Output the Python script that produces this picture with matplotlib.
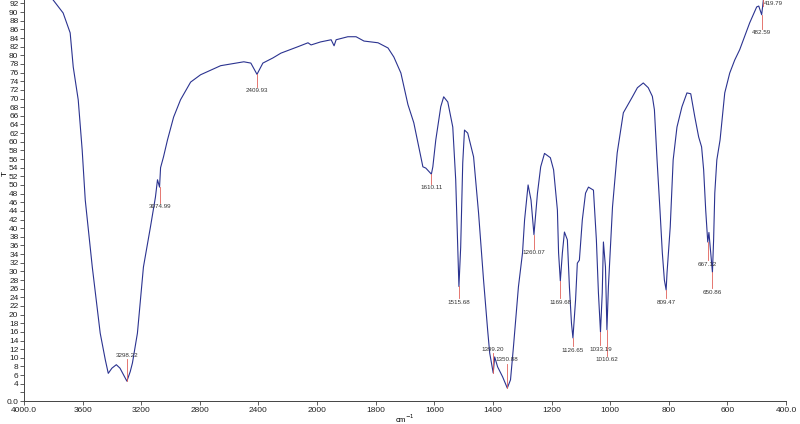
import numpy as np
import matplotlib
matplotlib.use('Agg')
import matplotlib.pyplot as plt

# spectrum (wavenumber in cm-1, transmittance)
wavenumber = [4000, 3850, 3801, 3733, 3685, 3664, 3630, 3603, 3582, 3534,
              3480, 3445, 3425, 3400, 3370, 3345, 3320, 3298, 3275, 3260,
              3226, 3185, 3137, 3103, 3089, 3075, 3068, 3048, 3021, 2979,
              2932, 2863, 2795, 2658, 2500, 2452, 2410, 2370, 2301, 2247,
              2130, 2062, 2041, 1988, 1952, 1942, 1935, 1895, 1867, 1840,
              1792, 1758, 1738, 1714, 1690, 1670, 1653, 1639, 1629, 1610,
              1605, 1595, 1578, 1568, 1554, 1537, 1527, 1520, 1516, 1510,
              1503, 1497, 1486, 1466, 1449, 1432, 1418, 1411, 1399, 1394,
              1384, 1367, 1351, 1340, 1330, 1313, 1299, 1292, 1280, 1270,
              1260, 1248, 1237, 1224, 1204, 1193, 1180, 1176, 1170, 1163,
              1156, 1146, 1139, 1132, 1127, 1118, 1112, 1105, 1095, 1084,
              1074, 1057, 1047, 1040, 1033, 1027, 1023, 1016, 1011, 1006,
              992, 976, 955, 924, 907, 887, 870, 856, 849, 840,
              830, 822, 815, 809, 806, 795, 785, 772, 755, 738,
              725, 711, 698, 688, 681, 674, 667, 663, 657, 651,
              647, 643, 636, 625, 609, 592, 575, 558, 524, 500,
              493, 483, 476, 460, 420, 400]
transmittance = [97.5, 94.5, 92.8, 89.8, 85.2, 77.3, 69.7, 58.1, 46.5, 31.0,
                 15.7, 9.5, 6.4, 7.6, 8.4, 7.6, 6.0, 4.6, 6.8, 8.8,
                 15.7, 31.0, 40.3, 47.2, 51.2, 49.5, 54.0, 56.5, 60.4, 65.7,
                 69.7, 73.8, 75.5, 77.6, 78.5, 78.2, 75.6, 78.2, 79.4, 80.5,
                 82.0, 82.9, 82.4, 83.1, 83.6, 82.2, 83.6, 84.3, 84.3, 83.3,
                 82.9, 81.7, 79.6, 75.9, 68.6, 64.4, 58.8, 54.2, 53.9, 52.5,
                 54.2, 60.4, 68.1, 70.4, 69.2, 63.4, 51.2, 35.6, 26.5, 35.6,
                 55.1, 62.7, 62.0, 56.5, 43.5, 28.0, 16.4, 11.1, 6.5, 10.2,
                 7.9, 5.6, 3.0, 4.9, 12.5, 26.4, 34.3, 41.9, 50.0, 46.5,
                 38.5, 48.1, 54.2, 57.3, 56.3, 53.5, 44.2, 34.3, 27.8, 34.3,
                 39.1, 37.3, 26.4, 18.0, 14.6, 23.4, 31.9, 32.6, 41.9, 48.1,
                 49.5, 48.8, 37.3, 25.0, 16.0, 25.0, 36.8, 31.0, 16.5, 26.4,
                 44.9, 57.4, 66.7, 70.4, 72.5, 73.6, 72.5, 70.5, 67.4, 55.8,
                 44.2, 34.3, 28.0, 25.7, 29.6, 40.3, 55.8, 63.4, 68.1, 71.3,
                 71.1, 65.7, 61.1, 58.8, 53.5, 44.2, 36.8, 39.0, 34.3, 29.8,
                 37.3, 48.1, 55.8, 60.4, 71.3, 75.9, 78.9, 81.3, 87.5, 91.2,
                 91.4, 89.4, 93.5, 95.5, 96.5, 96.0]

# peak picks: label, x of marker, curve value at marker, text centre
peak_labels = ['3298.22', '3074.99', '2409.93', '1610.11', '1515.68', '1399.20',
               '1350.88', '1260.07', '1169.68', '1126.65', '1033.19', '1010.62',
               '809.47', '667.12', '650.86', '482.59', '419.79']
peak_x = [3298, 3075, 2410, 1610, 1516, 1399, 1351, 1260, 1170, 1127, 1033,
          1011, 809, 667, 651, 483, 477]
peak_T = [4.6, 49.5, 75.6, 52.5, 26.5, 6.5, 3.0, 38.5, 27.8, 14.6, 16.0,
          16.5, 25.7, 36.8, 29.8, 89.4, 93.0]
label_T = [10.6, 44.9, 71.8, 49.3, 22.9, 12.0, 9.5, 34.3, 22.9, 11.8, 12.0,
           9.5, 22.9, 31.7, 25.2, 85.2, 91.9]

x_ticks = [4000, 3600, 3200, 2800, 2400, 2000, 1800, 1600, 1400, 1200,
           1000, 800, 600, 400]
x_ticklabels = ['4000.0', '3600', '3200', '2800', '2400', '2000', '1800',
                '1600', '1400', '1200', '1000', '800', '600', '400.0']


def fwd(x):
    x = np.asarray(x, dtype=float)
    return np.where(x > 2000, 2000 + (x - 2000) / 2, x)


def inv(y):
    y = np.asarray(y, dtype=float)
    return np.where(y > 2000, 2000 + (y - 2000) * 2, y)


plt.rcParams['font.family'] = ['Liberation Sans', 'DejaVu Sans']

fig = plt.figure(figsize=(8, 4.24), dpi=100)
ax = fig.add_axes([0.03, 23 / 424, 762 / 800, 401 / 424])
ax.set_xscale('function', functions=(fwd, inv))

ax.plot(wavenumber, transmittance, color='#2b3390', lw=0.8)

# peak markers
for lab, x, t, ty in zip(peak_labels, peak_x, peak_T, label_T):
    if lab == '419.79':
        ax.plot([x, x], [t, ty - 0.6], color='#e0605a', lw=0.6)
        ax.text(x - 3, ty, lab, fontsize=4.5, ha='left', va='center', color='#333333')
        continue
    if ty > t:
        ax.plot([x, x], [t, ty - 0.9], color='#e0605a', lw=0.6)
    else:
        ax.plot([x, x], [t, ty + 0.9], color='#e0605a', lw=0.6)
    ax.text(x, ty, lab, fontsize=4.5, ha='center', va='center', color='#333333')

ax.set_xlim(4000, 400)
ax.set_ylim(0, 92.8)
ax.set_xticks(x_ticks)
ax.set_xticklabels(x_ticklabels)
ax.set_xticks([], minor=True)

y_ticks = list(range(0, 93, 2))
ax.set_yticks(y_ticks)
ax.set_yticklabels(['0.0' if v == 0 else ('' if v == 2 else str(v)) for v in y_ticks])

for s in ['top', 'right']:
    ax.spines[s].set_visible(False)
for s in ['left', 'bottom']:
    ax.spines[s].set_color('#444444')
    ax.spines[s].set_linewidth(0.7)
ax.tick_params(axis='both', labelsize=6, length=3, width=0.6, pad=1,
               colors='#444444', labelcolor='#222222')

fig.text(5 / 800, 1 - 173 / 424, 'T', fontsize=6, rotation=90, ha='center', va='center')
fig.text(405 / 800, 1 - 419 / 424, 'cm$^{-1}$', fontsize=5.5, ha='center', va='center')

fig.savefig('out.png', dpi=100)
